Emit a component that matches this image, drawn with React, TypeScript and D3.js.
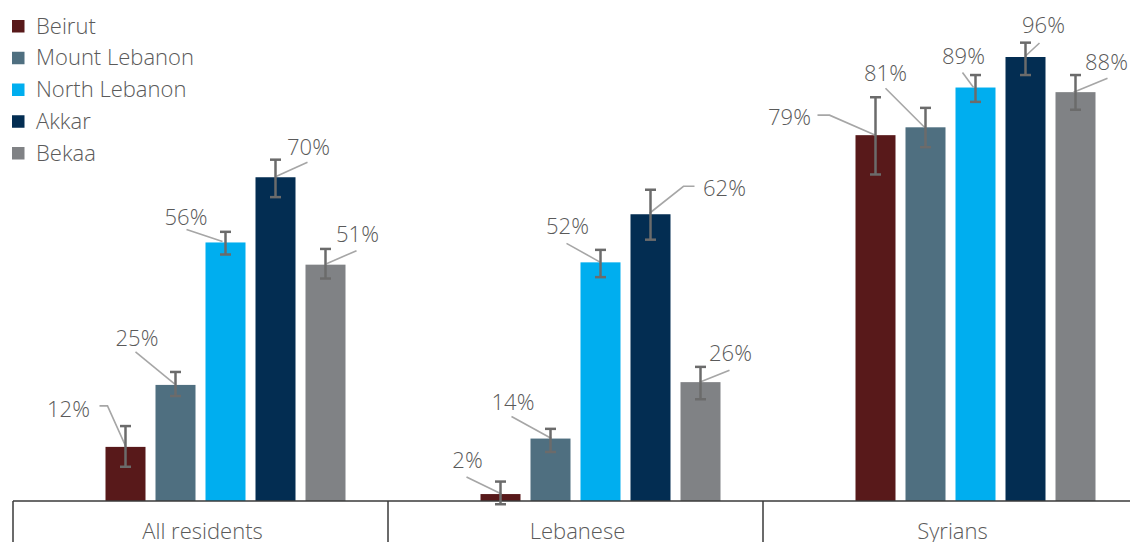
import React from "react";
import * as d3 from "d3";

const groups = ["All residents", "Lebanese", "Syrians"];
const regions = ["Beirut", "Mount Lebanon", "North Lebanon", "Akkar", "Bekaa"];
const colors = ["#58191a", "#4f6f80", "#00aeef", "#032d52", "#808285"];

// values per group, per region (percent)
const allResidents = [11.7, 25.1, 55.9, 70.0, 51.1];
const lebanese = [1.5, 13.5, 51.6, 62.0, 25.7];
const syrians = [79.1, 80.8, 89.4, 96.0, 88.4];

const allResidentsLow = [7.4, 22.7, 53.3, 65.7, 48.1];
const allResidentsHigh = [16.2, 27.9, 58.2, 73.8, 54.5];
const lebaneseLow = [-0.7, 10.6, 48.4, 56.5, 22.0];
const lebaneseHigh = [4.2, 15.6, 54.3, 67.3, 29.0];
const syriansLow = [70.6, 76.5, 86.3, 92.1, 84.6];
const syriansHigh = [87.3, 85.0, 92.1, 99.1, 92.1];

const labels = [
  ["12%", "25%", "56%", "70%", "51%"],
  ["2%", "14%", "52%", "62%", "26%"],
  ["79%", "81%", "89%", "96%", "88%"],
];

// layout: label offsets (relative to bar top center) and leader line points
type Lay = { dx: number; dy: number; pts: [number, number][] };
const labelLayout: Lay[][] = [
  [
    { dx: -57, dy: -38, pts: [[-26, -41], [-18, -41], [0, -1]] },
    { dx: -38.5, dy: -47, pts: [[-40, -33], [-1, -1]] },
    { dx: -39.5, dy: -25, pts: [[-39, -13], [-3, -1]] },
    { dx: 33, dy: -30, pts: [[32, -15], [1, -1]] },
    { dx: 32, dy: -30, pts: [[31, -14], [1, -1]] },
  ],
  [
    { dx: -33, dy: -34, pts: [[-34, -17], [1, 0]] },
    { dx: -37.5, dy: -36, pts: [[-39, -22], [1, 0]] },
    { dx: -33, dy: -36, pts: [[-34, -19], [0, 0]] },
    { dx: 74, dy: -26, pts: [[44, -28], [33, -28], [-1, -1]] },
    { dx: 30, dy: -29, pts: [[29, -12], [-1, 0]] },
  ],
  [
    { dx: -86, dy: -18, pts: [[-58, -20], [-46, -20], [0, 0]] },
    { dx: -40, dy: -54, pts: [[-40, -39], [-1, 0]] },
    { dx: -12, dy: -31, pts: [[-13, -15], [-2, 0]] },
    { dx: 18, dy: -31.5, pts: [[14, -14], [0, -1]] },
    { dx: 31, dy: -30, pts: [[32, -14], [-2, 0]] },
  ],
];

const W = 1130;
const H = 542;
const FONT = "'Open Sans', sans-serif";
const TEXT = "#5a5a5a";

export default function App() {
  const values = [allResidents, lebanese, syrians];
  const lows = [allResidentsLow, lebaneseLow, syriansLow];
  const highs = [allResidentsHigh, lebaneseHigh, syriansHigh];

  const x0 = d3.scaleBand<string>().domain(groups).range([13, 13 + 375 * 3]).paddingInner(0).paddingOuter(0);
  const slots = ["", ...regions];
  const x1 = d3
    .scaleBand<string>()
    .domain(slots)
    .range([0, x0.bandwidth()])
    .paddingInner(0.2)
    .paddingOuter(0.85);
  const y = d3.scaleLinear().domain([0, 100]).range([501, 38.5]);

  const line = d3.line();

  return (
    <svg
      width={W}
      height={H}
      style={{ position: "absolute", left: 0, top: 0, background: "#fff" }}
      fontFamily={FONT}
      fontWeight={300}
    >
      {/* legend */}
      {regions.map((r, i) => {
        const cy = 26 + i * 31.75;
        return (
          <g key={r}>
            <rect x={12} y={cy - 6} width={12.5} height={12.5} fill={colors[i]} />
            <text x={36} y={cy} dy="0.35em" fontSize={22} fill={TEXT}>
              {r}
            </text>
          </g>
        );
      })}

      {/* bars */}
      {groups.map((g, gi) => (
        <g key={g} transform={`translate(${x0(g)},0)`}>
          {regions.map((r, i) => {
            const v = values[gi][i];
            return (
              <rect
                key={r}
                x={x1(r)}
                y={y(v)}
                width={x1.bandwidth()}
                height={y(0) - y(v)}
                fill={colors[i]}
              />
            );
          })}
        </g>
      ))}

      {/* axis */}
      <line x1={13} x2={W} y1={y(0)} y2={y(0)} stroke="#3a3a3a" strokeWidth={1.5} />
      {groups.map((g) => (
        <line key={g} x1={x0(g)} x2={x0(g)} y1={y(0)} y2={H} stroke="#3a3a3a" strokeWidth={1.5} />
      ))}
      {groups.map((g) => (
        <text
          key={g}
          x={(x0(g) as number) + x0.bandwidth() / 2 + 2}
          y={539}
          textAnchor="middle"
          fontSize={22}
          fill={TEXT}
        >
          {g}
        </text>
      ))}

      {/* leader lines */}
      {groups.map((g, gi) =>
        regions.map((r, i) => {
          const cx = (x0(g) as number) + (x1(r) as number) + x1.bandwidth() / 2;
          const ty = y(values[gi][i]);
          const lay = labelLayout[gi][i];
          const pts = lay.pts.map(([a, b]) => [cx + a, ty + b] as [number, number]);
          return (
            <g key={g + r}>
              <path d={line(pts) || ""} fill="none" stroke="#a6a6a6" strokeWidth={1.6} />
            </g>
          );
        })
      )}

      {/* error bars */}
      {groups.map((g, gi) =>
        regions.map((r, i) => {
          const cx = (x0(g) as number) + (x1(r) as number) + x1.bandwidth() / 2;
          const lo = y(lows[gi][i]);
          const hi = y(highs[gi][i]);
          return (
            <g key={"e" + g + r} stroke="#6b6b6b" strokeWidth={2.5}>
              <line x1={cx} x2={cx} y1={lo} y2={hi} />
              <line x1={cx - 5.5} x2={cx + 5.5} y1={lo} y2={lo} />
              <line x1={cx - 5.5} x2={cx + 5.5} y1={hi} y2={hi} />
            </g>
          );
        })
      )}

      {groups.map((g, gi) =>
        regions.map((r, i) => {
          const cx = (x0(g) as number) + (x1(r) as number) + x1.bandwidth() / 2;
          const ty = y(values[gi][i]);
          const lay = labelLayout[gi][i];
          return (
            <text
              key={"t" + g + r}
              x={cx + lay.dx}
              y={ty + lay.dy}
              dy="0.35em"
              textAnchor="middle"
              fontSize={22}
              fill={TEXT}
            >
              {labels[gi][i]}
            </text>
          );
        })
      )}
    </svg>
  );
}
